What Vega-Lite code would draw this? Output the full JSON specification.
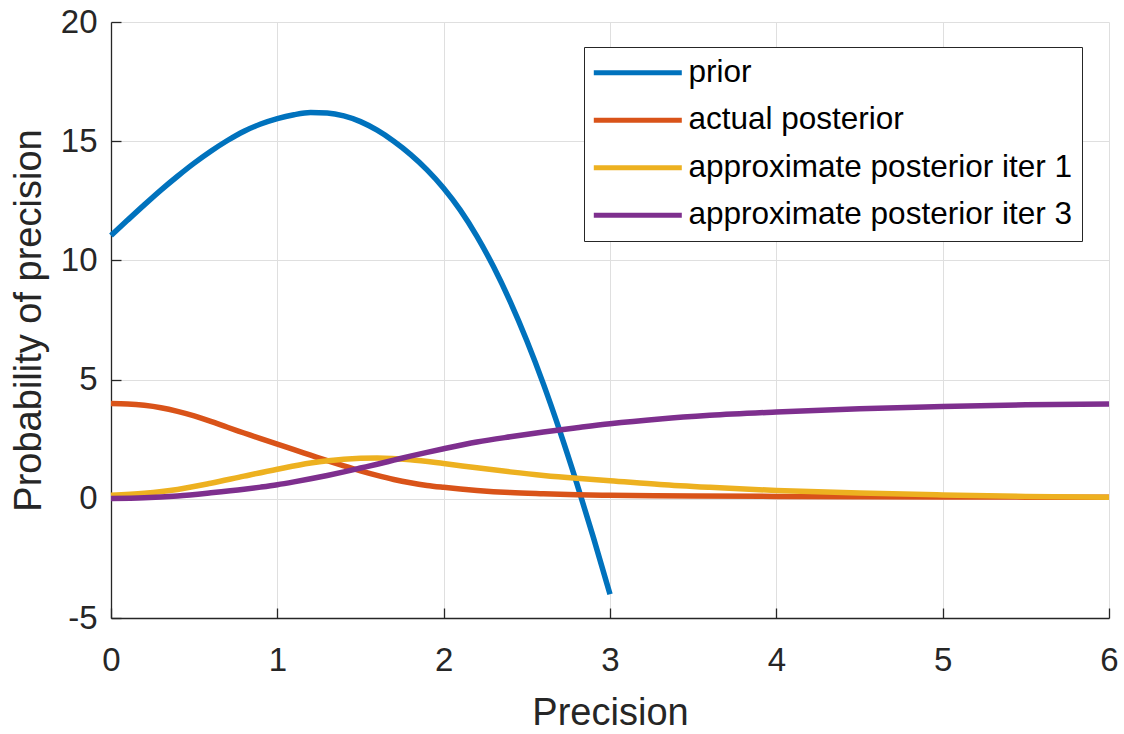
{
  "$schema": "https://vega.github.io/schema/vega-lite/v6.json",
  "width": 998,
  "height": 596,
  "autosize": "none",
  "padding": {"left": 111, "top": 22, "right": 15, "bottom": 116},
  "background": "white",
  "config": {"view": {"stroke": null}, "font": "Liberation Sans"},
  "datasets": {
    "curves": [
      {"series": "prior", "precision": 0.0, "probability": 11.04},
      {"series": "prior", "precision": 0.1, "probability": 11.69},
      {"series": "prior", "precision": 0.2, "probability": 12.33},
      {"series": "prior", "precision": 0.3, "probability": 12.95},
      {"series": "prior", "precision": 0.4, "probability": 13.53},
      {"series": "prior", "precision": 0.5, "probability": 14.08},
      {"series": "prior", "precision": 0.6, "probability": 14.58},
      {"series": "prior", "precision": 0.7, "probability": 15.03},
      {"series": "prior", "precision": 0.8, "probability": 15.42},
      {"series": "prior", "precision": 0.9, "probability": 15.72},
      {"series": "prior", "precision": 1.0, "probability": 15.95},
      {"series": "prior", "precision": 1.1, "probability": 16.11},
      {"series": "prior", "precision": 1.2, "probability": 16.2},
      {"series": "prior", "precision": 1.3, "probability": 16.18},
      {"series": "prior", "precision": 1.4, "probability": 16.06},
      {"series": "prior", "precision": 1.5, "probability": 15.82},
      {"series": "prior", "precision": 1.6, "probability": 15.46},
      {"series": "prior", "precision": 1.7, "probability": 15.0},
      {"series": "prior", "precision": 1.8, "probability": 14.45},
      {"series": "prior", "precision": 1.9, "probability": 13.8},
      {"series": "prior", "precision": 2.0, "probability": 13.03},
      {"series": "prior", "precision": 2.1, "probability": 12.11},
      {"series": "prior", "precision": 2.2, "probability": 11.01},
      {"series": "prior", "precision": 2.3, "probability": 9.73},
      {"series": "prior", "precision": 2.4, "probability": 8.27},
      {"series": "prior", "precision": 2.5, "probability": 6.63},
      {"series": "prior", "precision": 2.6, "probability": 4.81},
      {"series": "prior", "precision": 2.7, "probability": 2.81},
      {"series": "prior", "precision": 2.8, "probability": 0.66},
      {"series": "prior", "precision": 2.9, "probability": -1.62},
      {"series": "prior", "precision": 3.0, "probability": -4.0},

      {"series": "actual posterior", "precision": 0.0, "probability": 4.0},
      {"series": "actual posterior", "precision": 0.1, "probability": 3.98},
      {"series": "actual posterior", "precision": 0.2, "probability": 3.92},
      {"series": "actual posterior", "precision": 0.3, "probability": 3.82},
      {"series": "actual posterior", "precision": 0.4, "probability": 3.67},
      {"series": "actual posterior", "precision": 0.5, "probability": 3.48},
      {"series": "actual posterior", "precision": 0.6, "probability": 3.25},
      {"series": "actual posterior", "precision": 0.7, "probability": 3.0},
      {"series": "actual posterior", "precision": 0.8, "probability": 2.76},
      {"series": "actual posterior", "precision": 0.9, "probability": 2.52},
      {"series": "actual posterior", "precision": 1.0, "probability": 2.29},
      {"series": "actual posterior", "precision": 1.1, "probability": 2.06},
      {"series": "actual posterior", "precision": 1.2, "probability": 1.83},
      {"series": "actual posterior", "precision": 1.3, "probability": 1.6},
      {"series": "actual posterior", "precision": 1.4, "probability": 1.38},
      {"series": "actual posterior", "precision": 1.5, "probability": 1.17},
      {"series": "actual posterior", "precision": 1.6, "probability": 0.98},
      {"series": "actual posterior", "precision": 1.7, "probability": 0.81},
      {"series": "actual posterior", "precision": 1.8, "probability": 0.67},
      {"series": "actual posterior", "precision": 1.9, "probability": 0.56},
      {"series": "actual posterior", "precision": 2.0, "probability": 0.48},
      {"series": "actual posterior", "precision": 2.2, "probability": 0.35},
      {"series": "actual posterior", "precision": 2.4, "probability": 0.26},
      {"series": "actual posterior", "precision": 2.6, "probability": 0.21},
      {"series": "actual posterior", "precision": 2.8, "probability": 0.17},
      {"series": "actual posterior", "precision": 3.0, "probability": 0.15},
      {"series": "actual posterior", "precision": 3.5, "probability": 0.12},
      {"series": "actual posterior", "precision": 4.0, "probability": 0.1},
      {"series": "actual posterior", "precision": 4.5, "probability": 0.09},
      {"series": "actual posterior", "precision": 5.0, "probability": 0.08},
      {"series": "actual posterior", "precision": 5.5, "probability": 0.07},
      {"series": "actual posterior", "precision": 6.0, "probability": 0.06},

      {"series": "approximate posterior iter 1", "precision": 0.0, "probability": 0.15},
      {"series": "approximate posterior iter 1", "precision": 0.2, "probability": 0.23},
      {"series": "approximate posterior iter 1", "precision": 0.4, "probability": 0.39},
      {"series": "approximate posterior iter 1", "precision": 0.6, "probability": 0.65},
      {"series": "approximate posterior iter 1", "precision": 0.8, "probability": 0.95},
      {"series": "approximate posterior iter 1", "precision": 1.0, "probability": 1.24},
      {"series": "approximate posterior iter 1", "precision": 1.2, "probability": 1.5},
      {"series": "approximate posterior iter 1", "precision": 1.4, "probability": 1.66},
      {"series": "approximate posterior iter 1", "precision": 1.6, "probability": 1.71},
      {"series": "approximate posterior iter 1", "precision": 1.8, "probability": 1.64},
      {"series": "approximate posterior iter 1", "precision": 2.0, "probability": 1.48},
      {"series": "approximate posterior iter 1", "precision": 2.2, "probability": 1.3},
      {"series": "approximate posterior iter 1", "precision": 2.4, "probability": 1.13},
      {"series": "approximate posterior iter 1", "precision": 2.6, "probability": 0.98},
      {"series": "approximate posterior iter 1", "precision": 2.8, "probability": 0.86},
      {"series": "approximate posterior iter 1", "precision": 3.0, "probability": 0.76},
      {"series": "approximate posterior iter 1", "precision": 3.3, "probability": 0.6},
      {"series": "approximate posterior iter 1", "precision": 3.6, "probability": 0.48},
      {"series": "approximate posterior iter 1", "precision": 4.0, "probability": 0.35},
      {"series": "approximate posterior iter 1", "precision": 4.5, "probability": 0.24},
      {"series": "approximate posterior iter 1", "precision": 5.0, "probability": 0.16},
      {"series": "approximate posterior iter 1", "precision": 5.5, "probability": 0.1},
      {"series": "approximate posterior iter 1", "precision": 6.0, "probability": 0.07},

      {"series": "approximate posterior iter 3", "precision": 0.0, "probability": 0.01},
      {"series": "approximate posterior iter 3", "precision": 0.2, "probability": 0.04},
      {"series": "approximate posterior iter 3", "precision": 0.4, "probability": 0.12},
      {"series": "approximate posterior iter 3", "precision": 0.6, "probability": 0.25},
      {"series": "approximate posterior iter 3", "precision": 0.8, "probability": 0.4},
      {"series": "approximate posterior iter 3", "precision": 0.9, "probability": 0.49},
      {"series": "approximate posterior iter 3", "precision": 1.0, "probability": 0.59},
      {"series": "approximate posterior iter 3", "precision": 1.1, "probability": 0.71},
      {"series": "approximate posterior iter 3", "precision": 1.2, "probability": 0.84},
      {"series": "approximate posterior iter 3", "precision": 1.3, "probability": 0.98},
      {"series": "approximate posterior iter 3", "precision": 1.4, "probability": 1.13},
      {"series": "approximate posterior iter 3", "precision": 1.5, "probability": 1.29},
      {"series": "approximate posterior iter 3", "precision": 1.6, "probability": 1.45},
      {"series": "approximate posterior iter 3", "precision": 1.7, "probability": 1.62},
      {"series": "approximate posterior iter 3", "precision": 1.8, "probability": 1.79},
      {"series": "approximate posterior iter 3", "precision": 1.9, "probability": 1.95},
      {"series": "approximate posterior iter 3", "precision": 2.0, "probability": 2.1},
      {"series": "approximate posterior iter 3", "precision": 2.2, "probability": 2.38},
      {"series": "approximate posterior iter 3", "precision": 2.4, "probability": 2.6},
      {"series": "approximate posterior iter 3", "precision": 2.6, "probability": 2.8},
      {"series": "approximate posterior iter 3", "precision": 2.8, "probability": 2.98},
      {"series": "approximate posterior iter 3", "precision": 3.0, "probability": 3.15},
      {"series": "approximate posterior iter 3", "precision": 3.3, "probability": 3.35},
      {"series": "approximate posterior iter 3", "precision": 3.6, "probability": 3.5},
      {"series": "approximate posterior iter 3", "precision": 4.0, "probability": 3.64},
      {"series": "approximate posterior iter 3", "precision": 4.5, "probability": 3.78},
      {"series": "approximate posterior iter 3", "precision": 5.0, "probability": 3.87},
      {"series": "approximate posterior iter 3", "precision": 5.5, "probability": 3.94},
      {"series": "approximate posterior iter 3", "precision": 6.0, "probability": 3.98}
    ]
  },
  "data": {"name": "curves"},
  "mark": {"type": "line", "strokeWidth": 5.5, "interpolate": "monotone"},
  "encoding": {
    "x": {
      "field": "precision",
      "type": "quantitative",
      "scale": {"domain": [0, 6], "nice": false, "zero": false},
      "axis": {
        "title": "Precision",
        "values": [0, 1, 2, 3, 4, 5, 6],
        "labelExpr": "'' + datum.value",
        "domainColor": "#262626",
        "domainWidth": 1.3,
        "tickColor": "#262626",
        "tickWidth": 1.3,
        "tickSize": -10,
        "labelFont": "Liberation Sans",
        "labelFontSize": 33,
        "labelColor": "#262626",
        "labelPadding": 36,
        "labelFlush": false,
        "titleFont": "Liberation Sans",
        "titleFontSize": 38,
        "titleFontWeight": "normal",
        "titleColor": "#262626",
        "titlePadding": 17,
        "gridColor": "#dfdfdf",
        "gridWidth": 1
      }
    },
    "y": {
      "field": "probability",
      "type": "quantitative",
      "scale": {"domain": [-5, 20], "nice": false, "zero": false},
      "axis": {
        "title": "Probability of precision",
        "values": [-5, 0, 5, 10, 15, 20],
        "labelExpr": "'' + datum.value",
        "domainColor": "#262626",
        "domainWidth": 1.3,
        "tickColor": "#262626",
        "tickWidth": 1.3,
        "tickSize": -10,
        "labelFont": "Liberation Sans",
        "labelFontSize": 33,
        "labelColor": "#262626",
        "labelPadding": 24,
        "labelFlush": false,
        "titleFont": "Liberation Sans",
        "titleFontSize": 38,
        "titleFontWeight": "normal",
        "titleColor": "#262626",
        "titlePadding": 12,
        "gridColor": "#dfdfdf",
        "gridWidth": 1
      }
    },
    "color": {
      "field": "series",
      "type": "nominal",
      "scale": {
        "domain": ["prior", "actual posterior", "approximate posterior iter 1", "approximate posterior iter 3"],
        "range": ["#0072BD", "#D95319", "#EDB120", "#7E2F8E"]
      },
      "legend": {
        "orient": "none",
        "legendX": 473,
        "legendY": 25,
        "title": null,
        "symbolType": "M-1.45,0H6.55",
        "symbolSize": 484,
        "symbolStrokeWidth": 5,
        "symbolOpacity": 1,
        "labelFont": "Liberation Sans",
        "labelFontSize": 31.5,
        "labelColor": "#000000",
        "labelLimit": 0,
        "labelOffset": 63,
        "padding": 10,
        "rowPadding": 14.5,
        "strokeColor": "#262626",
        "fillColor": "white",
        "cornerRadius": 0
      }
    }
  }
}
